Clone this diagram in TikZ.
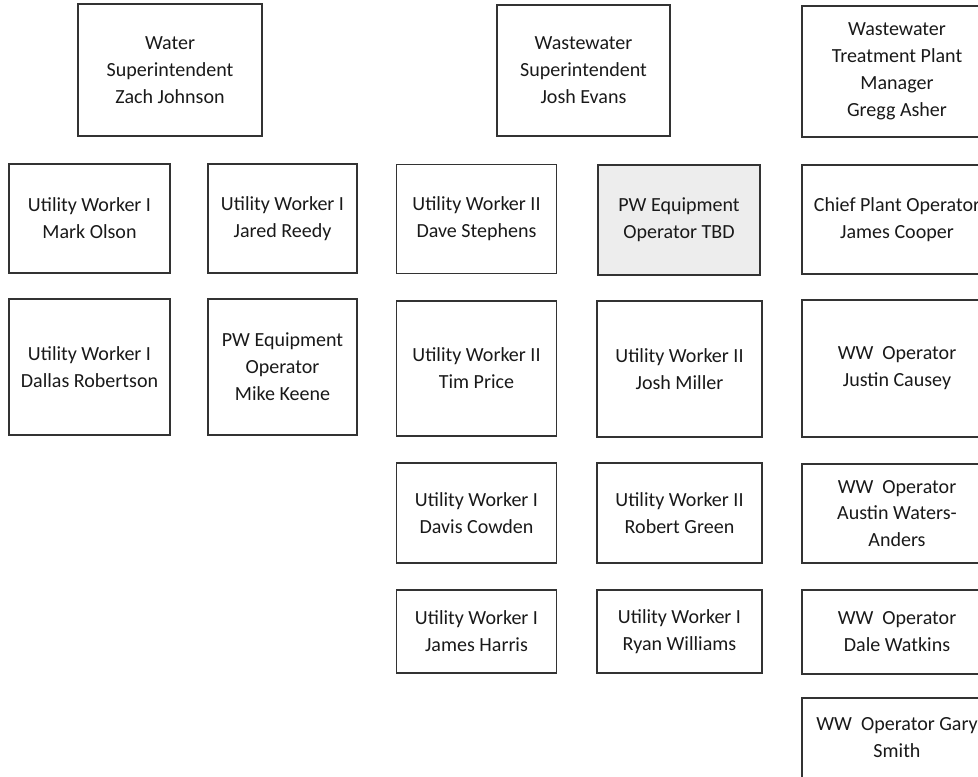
\documentclass[tikz,border=0pt]{standalone}
\usepackage{fontspec}
\setmainfont{Carlito}

\newcommand*{\colA}{1.79}
\newcommand*{\colB}{5.65}
\newcommand*{\colC}{9.53}
\newcommand*{\colD}{13.59}
\newcommand*{\colE}{17.94}

\begin{document}
\begin{tikzpicture}
[
	post/.style={draw=black!80,line width=1.1pt,text=black!90,align=center,inner sep=0pt,
		font=\fontsize{11.4}{15.3}\selectfont},
	vacant/.style={post,fill=black!7},
	narrow/.style={minimum width=2.98cm},
	mid/.style={minimum width=3.2cm},
	wide/.style={minimum width=3.8cm}
]
	\useasboundingbox (0,0) rectangle (19.56,-15.52);

	% heads
	\node[post,minimum width=3.68cm,minimum height=2.64cm] (water) at (3.4,-1.4) {Water\\Superintendent\\Zach Johnson};
	\node[post,minimum width=3.46cm,minimum height=2.62cm] (wwsup) at (11.67,-1.41) {Wastewater\\Superintendent\\Josh Evans};
	\node[post,wide,minimum height=2.62cm] (wwtp) at (\colE,-1.43) {Wastewater\\Treatment Plant\\Manager\\Gregg Asher};

	% water crew
	\node[post,minimum width=3.22cm,minimum height=2.18cm] (olson) at (\colA,-4.37) {Utility Worker I\\Mark Olson};
	\node[post,narrow,minimum height=2.18cm] (reedy) at (\colB,-4.37) {Utility Worker I\\Jared Reedy};
	\node[post,minimum width=3.22cm,minimum height=2.72cm] (robertson) at (\colA,-7.34) {Utility Worker I\\Dallas Robertson};
	\node[post,narrow,minimum height=2.72cm] (keene) at (\colB,-7.34) {PW Equipment\\Operator\\Mike Keene};

	% wastewater crew
	\node[post,mid,minimum height=2.18cm] (stephens) at (\colC,-4.38) {Utility Worker II\\Dave Stephens};
	\node[vacant,minimum width=3.24cm,minimum height=2.2cm] (tbd) at (13.58,-4.4) {PW Equipment\\Operator TBD};
	\node[post,mid,minimum height=2.7cm] (price) at (\colC,-7.37) {Utility Worker II\\Tim Price};
	\node[post,minimum width=3.3cm,minimum height=2.72cm] (miller) at (\colD,-7.38) {Utility Worker II\\Josh Miller};
	\node[post,mid,minimum height=2cm] (cowden) at (\colC,-10.26) {Utility Worker I\\Davis Cowden};
	\node[post,minimum width=3.3cm,minimum height=2cm] (green) at (\colD,-10.26) {Utility Worker II\\Robert Green};
	\node[post,mid,minimum height=1.66cm] (harris) at (\colC,-12.63) {Utility Worker I\\James Harris};
	\node[post,minimum width=3.3cm,minimum height=1.66cm] (williams) at (\colD,-12.63) {Utility Worker I\\Ryan Williams};

	% plant crew
	\node[post,wide,minimum height=2.18cm] (cooper) at (\colE,-4.39) {Chief Plant Operator\\James Cooper};
	\node[post,wide,minimum height=2.74cm] (causey) at (\colE,-7.37) {WW\ \ Operator\\Justin Causey};
	\node[post,wide,minimum height=1.98cm] (austin) at (\colE,-10.27) {WW\ \ Operator\\Austin Waters-\\Anders};
	\node[post,wide,minimum height=1.68cm] (watkins) at (\colE,-12.64) {WW\ \ Operator\\Dale Watkins};
	\node[post,wide,minimum height=1.6cm] (gary) at (\colE,-14.76) {WW\ \ Operator Gary\\Smith};

\end{tikzpicture}
\end{document}
